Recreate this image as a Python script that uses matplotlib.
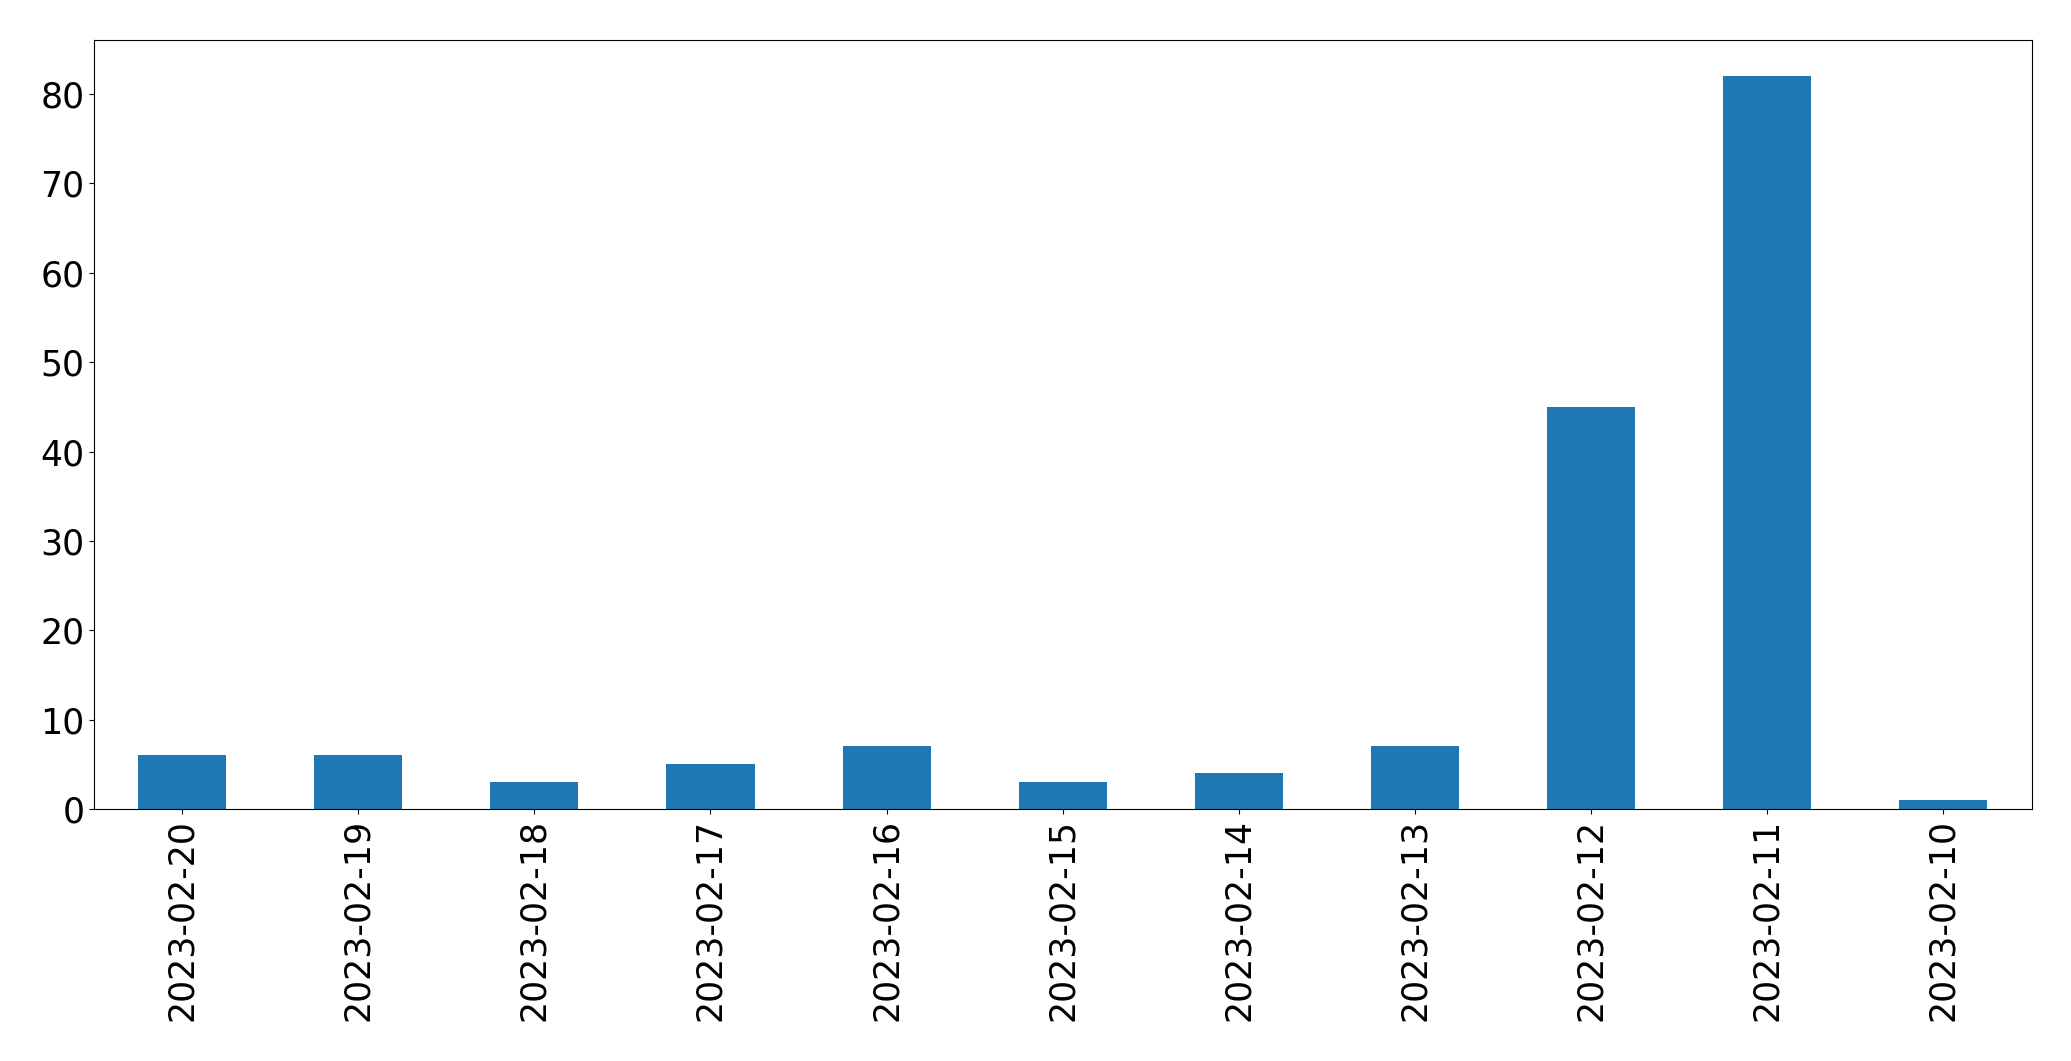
import pandas as pd
import matplotlib
matplotlib.use('Agg')
import matplotlib.pyplot as plt

# daily counts, newest first
dates = ['2023-02-20', '2023-02-19', '2023-02-18', '2023-02-17', '2023-02-16',
         '2023-02-15', '2023-02-14', '2023-02-13', '2023-02-12', '2023-02-11',
         '2023-02-10']
counts = [6, 6, 3, 5, 7, 3, 4, 7, 45, 82, 1]

s = pd.Series(counts, index=dates)

fig = plt.figure(figsize=(20.71, 10.61), dpi=100)
ax = fig.add_axes([94 / 2071, 1 - 809 / 1061, (2031.5 - 94) / 2071, (809 - 39.5) / 1061])
s.plot(kind='bar', ax=ax, fontsize=25)

plt.savefig('out.png', dpi=100)
